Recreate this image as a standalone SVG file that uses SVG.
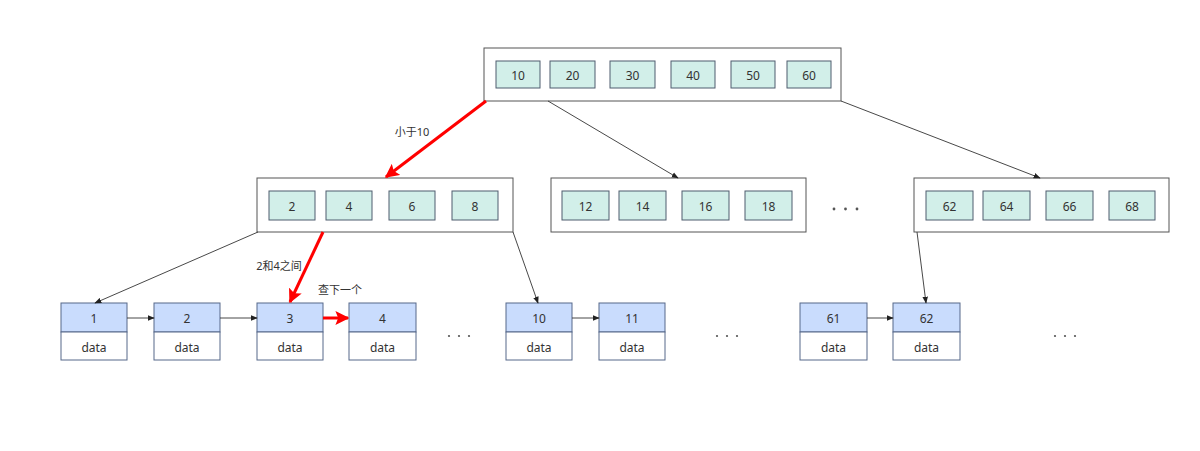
<svg xmlns="http://www.w3.org/2000/svg" width="1200" height="451" viewBox="0 0 1200 451">
<defs>
<marker id="ah" viewBox="0 0 10 10" refX="9" refY="5" markerWidth="7" markerHeight="7" markerUnits="userSpaceOnUse" orient="auto"><path d="M0,1 L10,5 L0,9 Z" fill="#222"/></marker>
<marker id="ahr" viewBox="0 0 10 10" refX="9" refY="5" markerWidth="14" markerHeight="14" markerUnits="userSpaceOnUse" orient="auto"><path d="M0,0 L10,5 L0,10 L2,5 Z" fill="#ff0000"/></marker>
</defs>
<style>
.box{fill:#fff;stroke:#555;stroke-width:1}
.key{fill:#d2efe9;stroke:#4f5d6e;stroke-width:1}
.hd{fill:#c9dcfd;stroke:#56688a;stroke-width:1}
.bd{fill:#fff;stroke:#56688a;stroke-width:1}
text{font-family:"Noto Sans","Noto Sans CJK SC",sans-serif;font-size:12px;fill:#333;text-anchor:middle;dominant-baseline:central}
.lbl{font-size:11px}
.thin{stroke:#333;stroke-width:0.9;fill:none;marker-end:url(#ah)}
.red{stroke:#ff0000;stroke-width:3;fill:none;marker-end:url(#ahr)}
.dot{fill:#555}
</style>
<rect width="1200" height="451" fill="#fff"/>
<g id="root">
<rect class="box" x="484" y="48" width="357" height="53"/>
<rect class="key" x="496" y="61" width="44" height="27"/><text x="518" y="75">10</text>
<rect class="key" x="550" y="61" width="45" height="27"/><text x="572.5" y="75">20</text>
<rect class="key" x="610" y="61" width="45" height="27"/><text x="632.5" y="75">30</text>
<rect class="key" x="671" y="61" width="44" height="27"/><text x="693" y="75">40</text>
<rect class="key" x="731" y="61" width="44" height="27"/><text x="753" y="75">50</text>
<rect class="key" x="787" y="61" width="44" height="27"/><text x="809" y="75">60</text>
</g>
<g id="mid1">
<rect class="box" x="257" y="178" width="256" height="54"/>
<rect class="key" x="269" y="191" width="46" height="29"/><text x="292" y="206">2</text>
<rect class="key" x="326" y="191" width="46" height="29"/><text x="349" y="206">4</text>
<rect class="key" x="389" y="191" width="46" height="29"/><text x="412" y="206">6</text>
<rect class="key" x="452" y="191" width="46" height="29"/><text x="475" y="206">8</text>
</g>
<g id="mid2">
<rect class="box" x="551" y="178" width="255" height="54"/>
<rect class="key" x="562" y="191" width="47" height="29"/><text x="585.5" y="206">12</text>
<rect class="key" x="619" y="191" width="47" height="29"/><text x="642.5" y="206">14</text>
<rect class="key" x="682" y="191" width="47" height="29"/><text x="705.5" y="206">16</text>
<rect class="key" x="745" y="191" width="47" height="29"/><text x="768.5" y="206">18</text>
</g>
<g id="mid-dots">
<circle class="dot" cx="834" cy="209" r="1.4"/><circle class="dot" cx="845.5" cy="209" r="1.4"/><circle class="dot" cx="857" cy="209" r="1.4"/>
</g>
<g id="mid3">
<rect class="box" x="914" y="178" width="255" height="54"/>
<rect class="key" x="926" y="191" width="47" height="29"/><text x="949.5" y="206">62</text>
<rect class="key" x="983" y="191" width="47" height="29"/><text x="1006.5" y="206">64</text>
<rect class="key" x="1046" y="191" width="47" height="29"/><text x="1069.5" y="206">66</text>
<rect class="key" x="1109" y="191" width="46" height="29"/><text x="1132" y="206">68</text>
</g>
<g id="leaf1"><rect class="hd" x="61" y="303" width="66" height="29"/><rect class="bd" x="61" y="332" width="66" height="28"/><text x="94" y="318">1</text><text x="94" y="347">data</text></g>
<g id="leaf2"><rect class="hd" x="154" y="303" width="66" height="29"/><rect class="bd" x="154" y="332" width="66" height="28"/><text x="187" y="318">2</text><text x="187" y="347">data</text></g>
<g id="leaf3"><rect class="hd" x="257" y="303" width="66" height="29"/><rect class="bd" x="257" y="332" width="66" height="28"/><text x="290" y="318">3</text><text x="290" y="347">data</text></g>
<g id="leaf4"><rect class="hd" x="349" y="303" width="67" height="29"/><rect class="bd" x="349" y="332" width="67" height="28"/><text x="382.5" y="318">4</text><text x="382.5" y="347">data</text></g>
<g id="leaf10"><rect class="hd" x="506" y="303" width="66" height="29"/><rect class="bd" x="506" y="332" width="66" height="28"/><text x="539" y="318">10</text><text x="539" y="347">data</text></g>
<g id="leaf11"><rect class="hd" x="599" y="303" width="66" height="29"/><rect class="bd" x="599" y="332" width="66" height="28"/><text x="632" y="318">11</text><text x="632" y="347">data</text></g>
<g id="leaf61"><rect class="hd" x="800" y="303" width="67" height="29"/><rect class="bd" x="800" y="332" width="67" height="28"/><text x="833.5" y="318">61</text><text x="833.5" y="347">data</text></g>
<g id="leaf62"><rect class="hd" x="893" y="303" width="67" height="29"/><rect class="bd" x="893" y="332" width="67" height="28"/><text x="926.5" y="318">62</text><text x="926.5" y="347">data</text></g>
<g id="leaf-dots">
<circle class="dot" cx="449" cy="336" r="1.1"/><circle class="dot" cx="459" cy="336" r="1.1"/><circle class="dot" cx="469" cy="336" r="1.1"/>
<circle class="dot" cx="717" cy="336" r="1.1"/><circle class="dot" cx="727" cy="336" r="1.1"/><circle class="dot" cx="737" cy="336" r="1.1"/>
<circle class="dot" cx="1055" cy="336" r="1.1"/><circle class="dot" cx="1065" cy="336" r="1.1"/><circle class="dot" cx="1075" cy="336" r="1.1"/>
</g>
<g id="connectors">
<line class="red" x1="486" y1="101" x2="386" y2="177"/>
<line class="thin" x1="548" y1="101" x2="678" y2="178"/>
<line class="thin" x1="841" y1="101" x2="1040" y2="178"/>
<line class="thin" x1="258" y1="232" x2="95" y2="303"/>
<line class="red" x1="323" y1="232" x2="290" y2="302"/>
<line class="thin" x1="513" y1="232" x2="538" y2="303"/>
<line class="thin" x1="917" y1="232" x2="926" y2="303"/>
<line class="thin" x1="127" y1="318" x2="154" y2="318"/>
<line class="thin" x1="220" y1="318" x2="257" y2="318"/>
<line class="red" x1="323" y1="318" x2="348" y2="318"/>
<line class="thin" x1="572" y1="318" x2="599" y2="318"/>
<line class="thin" x1="867" y1="318" x2="893" y2="318"/>
<text class="lbl" x="412" y="131">小于10</text>
<text class="lbl" x="279" y="265">2和4之间</text>
<text class="lbl" x="340" y="289">查下一个</text>
</g>
</svg>
